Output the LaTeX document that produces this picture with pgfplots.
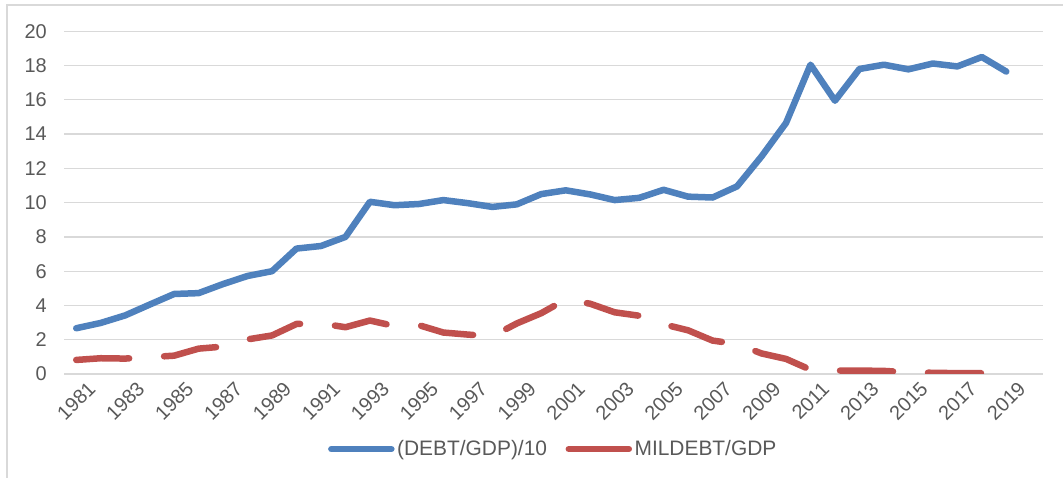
\documentclass[border=0pt]{standalone}
\usepackage{pgfplots}
\pgfplotsset{compat=1.18}
\usepackage{fontspec}
\setmainfont{Liberation Sans}
\definecolor{xlblue}{HTML}{4F81BD}
\definecolor{xlred}{HTML}{C0504D}
\definecolor{xlgrid}{HTML}{D9D9D9}
\definecolor{xltext}{HTML}{595959}
\begin{document}
\begin{tikzpicture}
\useasboundingbox (0,0) rectangle (1063bp,478bp);
\draw[xlgrid, line width=1.3bp] (7bp,-5bp) -- (7bp,473bp) -- (1070bp,473bp);
\begin{axis}[
  at={(64bp,104bp)}, anchor=south west,
  scale only axis, width=979bp, height=342.7bp,
  xmin=1980.5, xmax=2020.5, ymin=0, ymax=20,
  xtick={1981,1983,...,2019}, ytick={0,2,...,20},
  axis x line*=bottom, axis y line*=left,
  x axis line style={xlgrid, line width=1.3bp, -},
  y axis line style={draw=none},
  major tick length=0pt,
  ymajorgrids, grid style={xlgrid, line width=1.3bp},
  tick label style={font=\fontsize{20}{24}\selectfont, text=xltext, /pgf/number format/assume math mode=true},
  xticklabel style={/pgf/number format/1000 sep={}, yshift=-27bp, rotate=45, anchor=center},
  yticklabel style={anchor=east, inner sep=0pt, xshift=-17bp},
  legend style={at={(0.5,-0.219)}, anchor=center, draw=none, fill=none,
    font=\fontsize{21}{25}\selectfont\color{xltext}, legend columns=2,
    /tikz/every even column/.append style={column sep=16bp},
    inner sep=0pt, nodes={inner sep=2.5bp}},
  legend image code/.code={\draw[#1, solid, line cap=round] (0bp,0bp) -- (60bp,0bp);},
]
\addplot[xlblue, mark=none, line width=6.5bp, line join=round, line cap=round] coordinates {
(1981,2.67) (1982,2.98) (1983,3.42) (1984,4.05) (1985,4.67) (1986,4.72) (1987,5.25)
(1988,5.72) (1989,6.00) (1990,7.32) (1991,7.47) (1992,8.00) (1993,10.05) (1994,9.85)
(1995,9.92) (1996,10.15) (1997,9.97) (1998,9.75) (1999,9.90) (2000,10.50) (2001,10.72)
(2002,10.48) (2003,10.15) (2004,10.28) (2005,10.75) (2006,10.35) (2007,10.30) (2008,10.95)
(2009,12.70) (2010,14.65) (2011,18.05) (2012,15.95) (2013,17.80) (2014,18.05) (2015,17.78)
(2016,18.12) (2017,17.95) (2018,18.50) (2019,17.65)
};
\addplot[xlred, mark=none, line width=6.5bp, line join=round, line cap=round, dash pattern=on 53bp off 35bp] coordinates {
(1981,0.82) (1982,0.92) (1983,0.90) (1984,0.98) (1985,1.07) (1986,1.48) (1987,1.60)
(1988,2.02) (1989,2.25) (1990,2.92) (1991,2.95) (1992,2.73) (1993,3.12) (1994,2.80)
(1995,2.85) (1996,2.42) (1997,2.30) (1998,2.20) (1999,2.95) (2000,3.55) (2001,4.35)
(2002,4.10) (2003,3.60) (2004,3.40) (2005,2.90) (2006,2.55) (2007,1.95) (2008,1.75)
(2009,1.20) (2010,0.88) (2011,0.25) (2012,0.20) (2013,0.20) (2014,0.18) (2015,0.10)
(2016,0.07) (2017,0.05) (2018,0.05)
};
\legend{(DEBT/GDP)/10, MILDEBT/GDP}
\end{axis}
\end{tikzpicture}
\end{document}
